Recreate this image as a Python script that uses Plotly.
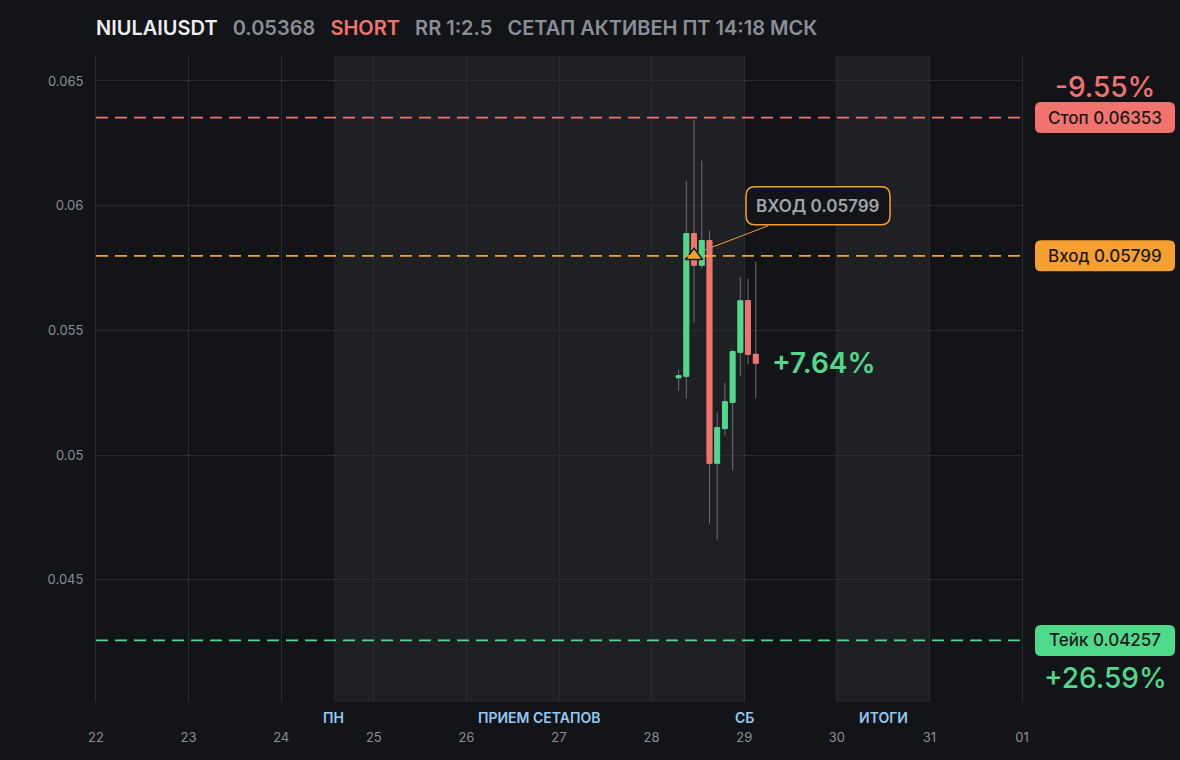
import plotly.graph_objects as go

# 2h candles, NIULAIUSDT
times = [
    "2025-03-28 07:00", "2025-03-28 09:00", "2025-03-28 11:00", "2025-03-28 13:00",
    "2025-03-28 15:00", "2025-03-28 17:00", "2025-03-28 19:00", "2025-03-28 21:00",
    "2025-03-28 23:00", "2025-03-29 01:00", "2025-03-29 03:00",
]
opens = [0.05310, 0.05316, 0.05888, 0.05761, 0.05860, 0.04967, 0.05106, 0.05211, 0.05412, 0.05619, 0.05404]
highs = [0.05342, 0.06100, 0.06345, 0.06180, 0.05900, 0.05170, 0.05290, 0.05423, 0.05715, 0.05707, 0.05775]
lows = [0.05258, 0.05227, 0.05532, 0.05748, 0.04726, 0.04662, 0.05079, 0.04939, 0.05316, 0.05364, 0.05227]
closes = [0.05318, 0.05888, 0.05761, 0.05860, 0.04967, 0.05110, 0.05214, 0.05415, 0.05619, 0.05404, 0.05368]

stop_price = 0.06353
entry_price = 0.05799
take_price = 0.04257
entry_time = "2025-03-28 11:00"

zone_starts = ["2025-03-24 13:40", "2025-03-30 00:00"]
zone_ends = ["2025-03-29 00:00", "2025-03-31 00:00"]
week_labels = ["ПН", "ПРИЕМ СЕТАПОВ", "СБ", "ИТОГИ"]
week_label_x = ["2025-03-24 13:40", "2025-03-26 18:50", "2025-03-29 00:00", "2025-03-30 12:00"]

y_ticks = [0.045, 0.05, 0.055, 0.06, 0.065]

BG = "#131418"
ZONE = "#1f2024"
GRID = "#2a2b30"
GREEN = "#4fd98a"
RED = "#f2736d"
ORANGE = "#f7a032"
WICK = "#6c6f76"
MUTED = "#8a8e96"
BLUE = "#93c9f2"
DARK = "#1a1a1c"
FONT = "Inter, Noto Sans, sans-serif"


def rounded(x0, y0, x1, y1, r):
    return (f"M{x0 + r},{y0} L{x1 - r},{y0} Q{x1},{y0} {x1},{y0 + r} "
            f"L{x1},{y1 - r} Q{x1},{y1} {x1 - r},{y1} L{x0 + r},{y1} "
            f"Q{x0},{y1} {x0},{y1 - r} L{x0},{y0 + r} Q{x0},{y0} {x0 + r},{y0} Z")


fig = go.Figure()

# wicks (gray) + bodies drawn on top with their own colour as outline
fig.add_trace(go.Candlestick(
    x=times, open=opens, high=highs, low=lows, close=closes,
    increasing=dict(line=dict(color=WICK, width=1), fillcolor=GREEN),
    decreasing=dict(line=dict(color=WICK, width=1), fillcolor=RED),
    whiskerwidth=0, hoverinfo="skip", showlegend=False,
))
body_hi = [max(o, c) for o, c in zip(opens, closes)]
body_lo = [min(o, c) for o, c in zip(opens, closes)]
fig.add_trace(go.Candlestick(
    x=times, open=opens, high=body_hi, low=body_lo, close=closes,
    increasing=dict(line=dict(color=GREEN, width=1), fillcolor=GREEN),
    decreasing=dict(line=dict(color=RED, width=1), fillcolor=RED),
    whiskerwidth=0, showlegend=False,
))

# entry marker
fig.add_trace(go.Scatter(
    x=[entry_time], y=[entry_price], mode="markers",
    marker=dict(symbol="triangle-up", size=15, color=ORANGE, line=dict(color=DARK, width=1.5)),
    showlegend=False, hoverinfo="skip",
))

# session zones
for x0, x1 in zip(zone_starts, zone_ends):
    fig.add_shape(type="rect", xref="x", yref="paper", x0=x0, x1=x1, y0=0, y1=1,
                  fillcolor=ZONE, line_width=0, layer="below")

for lab, lx in zip(week_labels, week_label_x):
    fig.add_annotation(x=lx, xref="x", y=0, yref="paper", yanchor="top", yshift=-5,
                       text=lab, showarrow=False,
                       font=dict(family=FONT, size=14, color=BLUE, weight=600))

# level lines + right side tags
levels = [
    (stop_price, RED, f"Стоп {stop_price:.5f}", "-9.55%", 31),
    (entry_price, ORANGE, f"Вход {entry_price:.5f}", None, 0),
    (take_price, GREEN, f"Тейк {take_price:.5f}", "+26.59%", -38),
]
for price, col, tag, pct, pct_shift in levels:
    fig.add_shape(type="line", xref="paper", yref="y", x0=0, x1=1, y0=price, y1=price,
                  line=dict(color=col, width=1.8, dash="12px,7px"))
    fig.add_shape(type="path", xref="paper", yref="y",
                  xsizemode="pixel", xanchor=1, ysizemode="pixel", yanchor=price,
                  path=rounded(13, -15.5, 153, 15.5, 6),
                  fillcolor=col, line_width=0, layer="above")
    fig.add_annotation(x=1, xref="paper", y=price, yref="y", xshift=83, xanchor="center",
                       text=tag, showarrow=False,
                       font=dict(family=FONT, size=17, color=DARK, weight=500))
    if pct:
        fig.add_annotation(x=1, xref="paper", y=price, yref="y", xshift=83, yshift=pct_shift,
                           xanchor="center", text=pct, showarrow=False,
                           font=dict(family=FONT, size=28, color=col, weight=500))

# entry callout
fig.add_shape(type="line", xref="x", yref="y", xsizemode="pixel", xanchor=entry_time,
              ysizemode="pixel", yanchor=entry_price, x0=1, y0=2, x1=74, y1=30,
              line=dict(color=ORANGE, width=1), layer="between")
fig.add_shape(type="path", xref="x", yref="y", xsizemode="pixel", xanchor=entry_time,
              ysizemode="pixel", yanchor=entry_price,
              path=rounded(52, 31, 196, 69, 9),
              fillcolor=BG, line=dict(color=ORANGE, width=1.5))
fig.add_annotation(x=entry_time, y=entry_price, xref="x", yref="y", xshift=124, yshift=50,
                   text=f"ВХОД {entry_price:.5f}", showarrow=False,
                   font=dict(family=FONT, size=17, color="#a2a6ad", weight=600))

# current pnl
fig.add_annotation(x=times[-1], y=closes[-1], xref="x", yref="y", xanchor="left", xshift=14,
                   text="+7.64%", showarrow=False,
                   font=dict(family=FONT, size=28, color=GREEN, weight=600))

title = (
    "<span style='color:#eceef1'>NIULAIUSDT</span>   "
    f"<span style='color:{MUTED}'>{closes[-1]:.5f}</span>   "
    f"<span style='color:{RED}'>SHORT</span>   "
    f"<span style='color:{MUTED}'>RR 1:2.5   СЕТАП АКТИВЕН ПТ 14:18 МСК</span>"
)

fig.update_layout(
    width=1180, height=760,
    paper_bgcolor=BG, plot_bgcolor=BG,
    margin=dict(l=96, r=158, t=56, b=58),
    title=dict(text=title, x=96 / 1180, xanchor="left", xref="container",
               y=1 - 28 / 760, yanchor="middle", yref="container",
               font=dict(family=FONT, size=20, weight=600)),
    font=dict(family=FONT, color=MUTED),
    showlegend=False,
    boxmode="overlay", boxgap=0.1,
    xaxis=dict(
        type="date", range=["2025-03-22", "2025-04-01"],
        dtick=86400000, tick0="2025-03-22", tickformat="%d",
        showgrid=True, gridcolor=GRID, gridwidth=1, zeroline=False,
        ticks="", ticklabelstandoff=26, tickfont=dict(size=13, color=MUTED),
        rangeslider=dict(visible=False), showline=False,
    ),
    yaxis=dict(
        range=[0.0401, 0.0660], tickvals=y_ticks,
        showgrid=True, gridcolor=GRID, gridwidth=1, zeroline=False,
        ticks="", ticklabelstandoff=9, tickfont=dict(size=13, color=MUTED),
        showline=True, linecolor=GRID, linewidth=1, mirror=True,
    ),
)

fig.write_html(
    "out.html",
    config={"displayModeBar": False},
    post_script="document.body.style.margin='0';document.body.style.background='#131418';",
)
